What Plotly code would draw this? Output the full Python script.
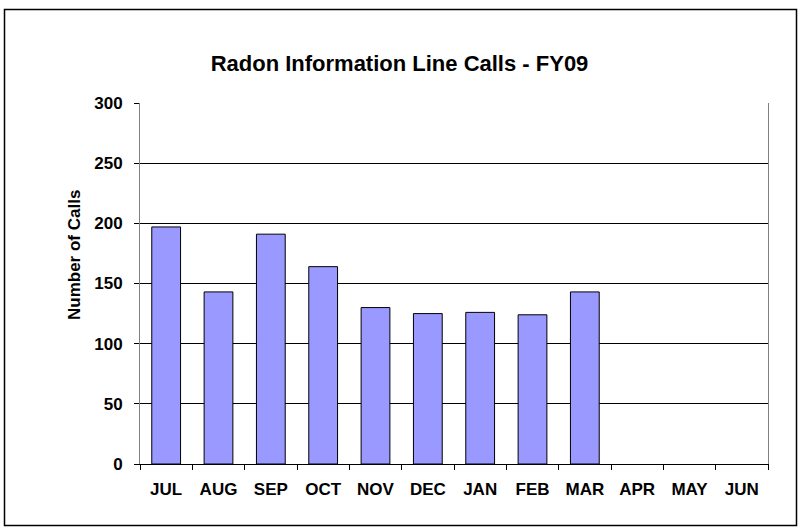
import plotly.graph_objects as go

months = ["JUL", "AUG", "SEP", "OCT", "NOV", "DEC", "JAN", "FEB", "MAR", "APR", "MAY", "JUN"]
calls = [197, 143, 191, 164, 130, 125, 126, 124, 143, None, None, None]
y_ticks = [0, 50, 100, 150, 200, 250, 300]

W, H = 799, 532
L, R, T, B = 140, 31, 103, 68

fig = go.Figure()
fig.add_trace(go.Bar(
    x=months, y=calls,
    marker=dict(color="#9999FF", line=dict(color="#000000", width=1)),
    width=0.55,
))

pw = W - L - R
ph = H - T - B
def px2x(px):
    return (px - L) / pw
def py2y(py):
    return (H - B - py) / ph

fig.add_shape(type="rect", xref="paper", yref="paper",
              x0=px2x(4.5), x1=px2x(796.5), y0=py2y(525.5), y1=py2y(9.5),
              line=dict(color="#000000", width=1.5), fillcolor="rgba(0,0,0,0)", layer="below")

fig.add_annotation(text="Number of Calls", xref="paper", yref="paper",
                   x=px2x(74), y=py2y(255), xanchor="center", yanchor="middle",
                   textangle=-90, showarrow=False,
                   font=dict(size=17, weight="bold"))

fig.update_layout(
    width=W, height=H,
    margin=dict(l=L, r=R, t=T, b=B),
    paper_bgcolor="white", plot_bgcolor="white",
    showlegend=False,
    font=dict(family="Liberation Sans, Arial, sans-serif", color="#000000"),
    title=dict(text="Radon Information Line Calls - FY09", x=0.5, xanchor="center",
               y=1 - 63 / H, yanchor="middle", font=dict(size=22, weight="bold")),
    xaxis=dict(
        categoryorder="array", categoryarray=months,
        range=[-0.5, 11.5],
        showline=True, linecolor="#000000", linewidth=1,
        ticks="outside", tickson="boundaries", ticklen=5, tickcolor="#000000",
        tickfont=dict(size=17, weight="bold"),
        ticklabelstandoff=10,
        showgrid=False,
    ),
    yaxis=dict(
        range=[0, 300], tickvals=y_ticks,
        showline=True, linecolor="#808080", linewidth=1, mirror=True,
        ticks="outside", ticklen=5, tickcolor="#000000",
        tickfont=dict(size=17, weight="bold"),
        ticklabelstandoff=8,
        showgrid=True, gridcolor="#000000", gridwidth=1,
        zeroline=False,
    ),
)

fig.write_html("out.html", config={"displayModeBar": False},
               post_script="document.body.style.margin='0';")
